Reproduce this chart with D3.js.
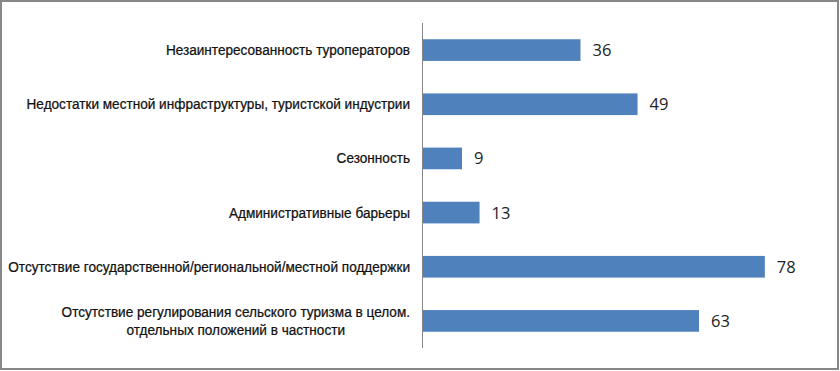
<!DOCTYPE html>
<html>
<head>
<meta charset="utf-8">
<script src="https://cdn.jsdelivr.net/npm/d3@7"></script>
<style>
  html, body { margin: 0; padding: 0; background: #fff; }
  svg { display: block; }
</style>
</head>
<body>
<div id="chart"></div>
<script>
const categories = [
    ['Незаинтересованность туроператоров'],
    ['Недостатки местной инфраструктуры, туристской индустрии'],
    ['Сезонность'],
    ['Административные барьеры'],
    ['Отсутствие государственной/региональной/местной поддержки'],
    ['Отсутствие регулирования сельского туризма в целом.', 'отдельных положений в частности']
];
const values = [36, 49, 9, 13, 78, 63];

const width = 840;
const height = 371;
const axisX = 422.5;
const labelRight = 410;

const svg = d3.select('#chart').append('svg')
    .attr('width', width)
    .attr('height', height);

// outer frame
svg.append('rect')
    .attr('x', 1)
    .attr('y', 1)
    .attr('width', 837)
    .attr('height', 368)
    .attr('fill', '#fff')
    .attr('stroke', '#878787')
    .attr('stroke-width', 2);

const y = d3.scaleBand()
    .domain(d3.range(values.length))
    .range([23, 348])
    .paddingInner(0.6)
    .paddingOuter(0.3);

const x = d3.scaleLinear()
    .domain([0, 90])
    .range([axisX, axisX + 395]);

// bars
svg.selectAll('.bar')
    .data(values)
    .enter().append('rect')
    .attr('class', 'bar')
    .attr('x', x(0))
    .attr('y', (d, i) => y(i))
    .attr('width', d => x(d) - x(0))
    .attr('height', y.bandwidth())
    .attr('fill', '#4f81bd');

// value labels
svg.selectAll('.val')
    .data(values)
    .enter().append('text')
    .attr('class', 'val')
    .attr('x', d => x(d) + 12)
    .attr('y', (d, i) => y(i) + y.bandwidth() / 2)
    .attr('dy', '0.36em')
    .style('font-family', '"Open Sans", "Liberation Sans", sans-serif')
    .style('font-size', '16.5px')
    .style('fill', '#222')
    .text(d => d);

// category axis
const axis = d3.axisLeft(y).tickSize(0).tickFormat('');
const g = svg.append('g')
    .attr('transform', `translate(${axisX},0)`)
    .call(axis);
g.select('.domain')
    .attr('stroke', '#878787')
    .attr('d', 'M0,23V348');

// labels are drawn in a condensed group (the source font is narrow)
const lg = svg.append('g');

const labels = lg.selectAll('.cat')
    .data(categories)
    .enter().append('text')
    .attr('class', 'cat')
    .attr('y', (d, i) => y(i) + y.bandwidth() / 2)
    .style('font-family', '"Liberation Sans", Arial, sans-serif')
    .style('font-size', '14.5px')
    .style('fill', '#111')
    .style('stroke', '#111')
    .style('stroke-width', 0.25);

labels.each(function(lines) {
    const t = d3.select(this);
    lines.forEach((line, k) => {
        t.append('tspan')
            .attr('dy', k === 0 ? (lines.length > 1 ? '-0.3em' : '0.35em') : '1.3em')
            .text(line);
    });
});

// squeeze factor so the longest line spans the same width as in the source
const longest = labels.filter((d, i) => i === 4).node().getComputedTextLength();
const sx = 402 / longest;
lg.attr('transform', `translate(${labelRight},0) scale(${sx},1)`);

labels.each(function(lines) {
    const t = d3.select(this);
    if (lines.length > 1) {
        const first = t.select('tspan').node().getComputedTextLength();
        const cx = -first / 2;
        t.attr('text-anchor', 'middle');
        t.selectAll('tspan').attr('x', cx);
    } else {
        t.attr('text-anchor', 'end');
        t.selectAll('tspan').attr('x', 0);
    }
});
</script>
</body>
</html>
